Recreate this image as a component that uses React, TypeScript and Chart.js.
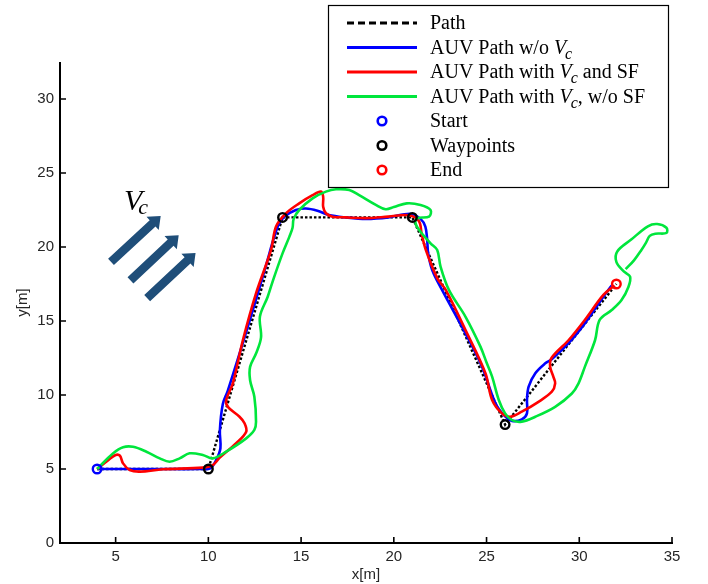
import React, { useEffect, useRef } from 'react';
import { Chart, registerables } from 'chart.js';

Chart.register(...registerables);

// ---------- data (metres) ----------
const pathX = [4, 10, 14, 21, 26, 32];
const pathY = [5, 5, 22, 22, 8, 17.5];

const startX = [4];
const startY = [5];
const waypointX = [10, 14, 21, 26];
const waypointY = [5, 22, 22, 8];
const endX = [32];
const endY = [17.5];

const blueX = [4, 7, 9.6, 10.1, 10.42, 10.65, 10.62, 10.78, 11.05, 12.1, 13.05, 13.74, 14.1, 14.72, 15.26, 15.88, 16.5, 17.4, 18.5, 19.7, 20.9, 21.44, 21.7, 21.8, 21.85, 22.07, 22.6, 23.86, 24.76, 25.48, 26.0, 26.37, 26.9, 27.18, 27.18, 27.27, 27.63, 28.17, 28.5, 29.42, 30.3, 31.3, 31.75];
const blueY = [5, 5, 5, 5.05, 5.6, 6.4, 7.6, 9.4, 10.3, 14.5, 18.5, 21.38, 22.05, 22.5, 22.6, 22.45, 22.16, 22.0, 21.9, 22.0, 22.25, 21.9, 21.38, 20.47, 19.6, 18.45, 17.1, 14.17, 11.9, 9.44, 8.55, 8.25, 8.35, 8.76, 9.66, 10.56, 11.47, 12.14, 12.4, 13.5, 14.84, 16.64, 17.4];

const redX = [4, 4.6, 5.0, 5.23, 5.4, 5.76, 6.3, 7.55, 9.7, 10.24, 10.6, 11.5, 12.04, 11.95, 11.68, 11.05, 10.96, 11.32, 11.86, 12.57, 13.38, 13.65, 14.19, 14.9, 15.62, 16.07, 16.19, 16.19, 16.34, 16.7, 17.4, 18.5, 19.7, 20.8, 21.35, 21.5, 21.7, 22.34, 22.8, 23.86, 24.94, 25.3, 25.83, 26.28, 26.9, 27.8, 28.52, 28.7, 28.6, 28.43, 28.5, 29.42, 30.3, 31.3, 31.9];
const redY = [5, 5.6, 5.95, 5.9, 5.38, 4.93, 4.82, 4.98, 5.09, 5.27, 5.75, 6.74, 7.52, 8.09, 8.53, 9.2, 9.66, 10.79, 13.7, 16.87, 19.8, 21.38, 22.28, 22.95, 23.5, 23.74, 23.4, 22.72, 22.28, 22.05, 22.0, 21.95, 22.05, 22.15, 21.75, 20.9, 19.9, 17.9, 17.1, 14.4, 11.47, 9.66, 8.76, 8.53, 8.87, 9.54, 10.22, 10.79, 11.24, 11.9, 12.5, 13.7, 15.07, 16.76, 17.4];

const greenX = [4, 4.87, 5.4, 5.94, 6.66, 7.38, 7.91, 8.45, 8.99, 9.7, 10.24, 10.96, 12.04, 12.48, 12.57, 12.48, 12.25, 12.25, 12.57, 12.84, 12.78, 13.2, 13.5, 14.0, 14.37, 14.54, 14.6, 14.9, 15.62, 16.34, 16.88, 17.6, 18.13, 19.03, 19.56, 20.0, 20.7, 21.44, 21.98, 21.9, 21.26, 21.17, 21.44, 21.98, 22.34, 22.52, 22.97, 23.86, 24.67, 25.0, 25.3, 25.66, 26.0, 26.37, 26.9, 27.63, 28.7, 29.6, 29.96, 30.3, 30.85, 31.1, 31.75, 32.27, 32.65, 32.74, 32.4, 32.0, 32.05, 32.8, 33.7, 34.2, 34.7, 34.7, 34.1, 33.8, 33.6, 33.35, 32.95, 32.5];
const greenY = [5, 6.06, 6.47, 6.5, 6.17, 5.72, 5.49, 5.72, 6.06, 5.95, 5.72, 6.17, 7.07, 7.64, 8.2, 9.88, 11.0, 11.9, 12.8, 13.9, 15.3, 16.64, 17.8, 19.57, 20.7, 21.3, 21.9, 22.5, 23.29, 23.74, 23.9, 23.85, 23.5, 22.84, 22.55, 22.7, 22.95, 22.84, 22.5, 22.05, 21.94, 21.6, 21.03, 20.25, 19.8, 18.67, 17.1, 15.3, 13.27, 12.2, 11.24, 9.66, 8.76, 8.3, 8.2, 8.53, 9.2, 10.1, 10.79, 11.9, 13.7, 15.07, 15.74, 16.4, 17.3, 18.0, 18.35, 19.0, 19.7, 20.5, 21.4, 21.55, 21.3, 20.95, 20.9, 20.75, 20.3, 19.8, 19.1, 18.5];

const xTicks = [5, 10, 15, 20, 25, 30, 35];
const yTicks = [0, 5, 10, 15, 20, 25, 30];

// current-direction arrows (tail -> tip) and label, in data coordinates
const arrowTailX = [4.75, 5.8, 6.7];
const arrowTailY = [19.0, 17.75, 16.55];
const arrowTipX = [7.43, 8.4, 9.31];
const arrowTipY = [22.1, 20.8, 19.6];
const vcLabelX = [5.45];
const vcLabelY = [22.5];

const BLUE = '#0000ff';
const RED = '#ff0000';
const GREEN = '#00e63c';
const ARROW = '#1f4e79';
const SERIF = '"Liberation Serif", "Times New Roman", serif';
const SANS = '"Liberation Sans", Arial, sans-serif';

const toPts = (xs: number[], ys: number[]) => xs.map((x, i) => ({ x, y: ys[i] }));

type Part = { t: string; italic?: boolean; sub?: boolean };

function drawRich(ctx: CanvasRenderingContext2D, x: number, y: number, parts: Part[], size: number) {
  let cx = x;
  parts.forEach((p) => {
    const s = p.sub ? Math.round(size * 0.78) : size;
    ctx.font = `${p.italic ? 'italic ' : ''}${s}px ${SERIF}`;
    const dy = p.sub ? size * 0.3 : 0;
    ctx.fillText(p.t, cx, y + dy);
    cx += ctx.measureText(p.t).width - (p.italic && !p.sub ? 1 : 0);
  });
}

const axesPlugin = {
  id: 'matlabAxes',
  afterDatasetsDraw(chart: any) {
    const { ctx, chartArea, scales } = chart;
    const { left, right, top, bottom } = chartArea;
    const xs = scales.x;
    const ys = scales.y;
    ctx.save();
    ctx.strokeStyle = '#000';
    ctx.lineWidth = 2;
    ctx.beginPath();
    ctx.moveTo(left, top);
    ctx.lineTo(left, bottom);
    ctx.lineTo(right + 1, bottom);
    ctx.stroke();
    ctx.lineWidth = 1.6;
    ctx.beginPath();
    xTicks.forEach((v) => {
      const px = xs.getPixelForValue(v);
      ctx.moveTo(px, bottom);
      ctx.lineTo(px, bottom - 6);
    });
    yTicks.forEach((v) => {
      const py = ys.getPixelForValue(v);
      ctx.moveTo(left, py);
      ctx.lineTo(left + 6, py);
    });
    ctx.stroke();
    ctx.restore();
  },
};

const annotationPlugin = {
  id: 'currentArrows',
  afterDatasetsDraw(chart: any) {
    const { ctx, scales } = chart;
    const xs = scales.x;
    const ys = scales.y;
    ctx.save();
    ctx.fillStyle = ARROW;
    arrowTailX.forEach((_, i) => {
      const x0 = xs.getPixelForValue(arrowTailX[i]);
      const y0 = ys.getPixelForValue(arrowTailY[i]);
      const x1 = xs.getPixelForValue(arrowTipX[i]);
      const y1 = ys.getPixelForValue(arrowTipY[i]);
      const ang = Math.atan2(y1 - y0, x1 - x0);
      const len = Math.hypot(x1 - x0, y1 - y0);
      const headLen = 11;
      const headW = 9;
      const shaftW = 4.3;
      ctx.save();
      ctx.translate(x0, y0);
      ctx.rotate(ang);
      ctx.beginPath();
      ctx.moveTo(0, -shaftW);
      ctx.lineTo(len - headLen, -shaftW);
      ctx.lineTo(len - headLen, -headW);
      ctx.lineTo(len, 0);
      ctx.lineTo(len - headLen, headW);
      ctx.lineTo(len - headLen, shaftW);
      ctx.lineTo(0, shaftW);
      ctx.closePath();
      ctx.fill();
      ctx.restore();
    });
    // V_c label
    const lx = xs.getPixelForValue(vcLabelX[0]);
    const ly = ys.getPixelForValue(vcLabelY[0]);
    ctx.fillStyle = '#000';
    ctx.textBaseline = 'alphabetic';
    ctx.textAlign = 'left';
    ctx.font = `italic 30px ${SERIF}`;
    ctx.fillText('V', lx, ly);
    const vw = ctx.measureText('V').width;
    ctx.font = `italic 22px ${SERIF}`;
    ctx.fillText('c', lx + vw - 4, ly + 4);
    ctx.restore();
  },
};

type LegendRow = { kind: 'line' | 'dash' | 'marker'; color: string; parts: Part[] };
const legendRows: LegendRow[] = [
  { kind: 'dash', color: '#000', parts: [{ t: 'Path' }] },
  { kind: 'line', color: BLUE, parts: [{ t: 'AUV Path w/o ' }, { t: 'V', italic: true }, { t: 'c', italic: true, sub: true }] },
  { kind: 'line', color: RED, parts: [{ t: 'AUV Path with ' }, { t: 'V', italic: true }, { t: 'c', italic: true, sub: true }, { t: ' and SF' }] },
  { kind: 'line', color: GREEN, parts: [{ t: 'AUV Path with ' }, { t: 'V', italic: true }, { t: 'c', italic: true, sub: true }, { t: ', w/o SF' }] },
  { kind: 'marker', color: BLUE, parts: [{ t: 'Start' }] },
  { kind: 'marker', color: '#000', parts: [{ t: 'Waypoints' }] },
  { kind: 'marker', color: RED, parts: [{ t: 'End' }] },
];

const legendPlugin = {
  id: 'boxLegend',
  afterDraw(chart: any) {
    const { ctx } = chart;
    const bx = 328;
    const by = 5;
    const bw = 340;
    const bh = 182;
    ctx.save();
    ctx.fillStyle = '#fff';
    ctx.fillRect(bx, by, bw, bh);
    ctx.strokeStyle = '#000';
    ctx.lineWidth = 1.2;
    ctx.strokeRect(bx + 0.5, by + 0.5, bw, bh);
    legendRows.forEach((row, i) => {
      const y = by + 18 + i * 24.5;
      if (row.kind === 'marker') {
        ctx.beginPath();
        ctx.setLineDash([]);
        ctx.lineWidth = 2.6;
        ctx.strokeStyle = row.color;
        ctx.arc(382, y, 4.3, 0, Math.PI * 2);
        ctx.stroke();
      } else {
        ctx.beginPath();
        ctx.lineWidth = 3;
        ctx.strokeStyle = row.color;
        ctx.setLineDash(row.kind === 'dash' ? [7, 4] : []);
        ctx.moveTo(347, y);
        ctx.lineTo(417, y);
        ctx.stroke();
        ctx.setLineDash([]);
      }
      ctx.fillStyle = '#000';
      ctx.textBaseline = 'middle';
      ctx.textAlign = 'left';
      drawRich(ctx, 430, y + 1, row.parts, 20);
    });
    ctx.restore();
  },
};

export default function App() {
  const canvasRef = useRef<HTMLCanvasElement | null>(null);

  useEffect(() => {
    document.body.style.margin = '0';
    const canvas = canvasRef.current;
    if (!canvas) return;
    const lineDs = (label: string, xs: number[], ys: number[], color: string, order: number) => ({
      label,
      data: toPts(xs, ys),
      showLine: true,
      borderColor: color,
      backgroundColor: color,
      borderWidth: 2.6,
      pointRadius: 0,
      tension: 0.35,
      order,
    });
    const markerDs = (label: string, xs: number[], ys: number[], color: string) => ({
      label,
      data: toPts(xs, ys),
      showLine: false,
      pointRadius: 4.3,
      pointBorderWidth: 2.4,
      pointBorderColor: color,
      pointBackgroundColor: 'rgba(255,255,255,0)',
      order: 0,
    });
    const chart = new Chart(canvas, {
      type: 'scatter',
      data: {
        datasets: [
          markerDs('Start', startX, startY, BLUE),
          markerDs('Waypoints', waypointX, waypointY, '#000'),
          markerDs('End', endX, endY, RED),
          lineDs('AUV Path with Vc, w/o SF', greenX, greenY, GREEN, 2),
          lineDs('AUV Path with Vc and SF', redX, redY, RED, 3),
          lineDs('AUV Path w/o Vc', blueX, blueY, BLUE, 4),
          {
            label: 'Path',
            data: toPts(pathX, pathY),
            showLine: true,
            borderColor: '#000',
            borderWidth: 2.4,
            borderDash: [2.5, 2],
            pointRadius: 0,
            tension: 0,
            order: 5,
          },
        ] as any,
      },
      options: {
        responsive: false,
        animation: false,
        events: [],
        layout: { padding: { top: 62, right: 36, left: 0, bottom: 0 } },
        plugins: {
          legend: { display: false },
          tooltip: { enabled: false },
          title: { display: false },
        },
        scales: {
          x: {
            type: 'linear',
            min: 2,
            max: 35,
            grid: { display: false, drawTicks: false },
            border: { display: false },
            ticks: {
              stepSize: 5,
              includeBounds: false,
              padding: 5,
              color: '#262626',
              font: { family: SANS, size: 15 },
              maxRotation: 0,
            },
            title: {
              display: true,
              text: 'x[m]',
              color: '#262626',
              font: { family: SANS, size: 15 },
              padding: { top: 0, bottom: 0 },
            },
            afterFit: (s: any) => {
              s.height = 41;
            },
          },
          y: {
            type: 'linear',
            min: 0,
            max: 32.5,
            grid: { display: false, drawTicks: false },
            border: { display: false },
            ticks: {
              stepSize: 5,
              includeBounds: false,
              padding: 6,
              color: '#262626',
              font: { family: SANS, size: 15 },
            },
            title: {
              display: true,
              text: 'y[m]',
              color: '#262626',
              font: { family: SANS, size: 15 },
              padding: { top: 14, bottom: 0 },
            },
            afterFit: (s: any) => {
              s.width = 60;
            },
          },
        },
      } as any,
      plugins: [axesPlugin, annotationPlugin, legendPlugin],
    });
    return () => chart.destroy();
  }, []);

  return (
    <div style={{ width: 708, height: 584, background: '#fff' }}>
      <canvas ref={canvasRef} width={708} height={584} style={{ display: 'block' }} />
    </div>
  );
}
